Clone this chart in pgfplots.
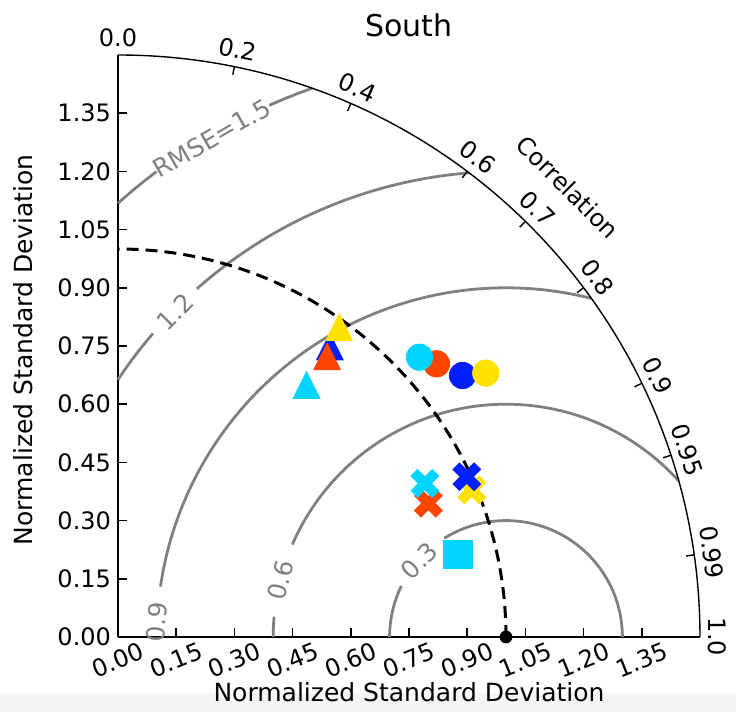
\documentclass[border=0pt]{standalone}
\usepackage{pgfplots}
\pgfplotsset{compat=1.18}
\usepackage{fontspec}
\setmainfont{DejaVu Sans}

\definecolor{mcyan}{RGB}{0,213,255}
\definecolor{mred}{RGB}{255,69,0}
\definecolor{mblue}{RGB}{0,30,255}
\definecolor{myellow}{RGB}{255,226,0}
\definecolor{rgray}{RGB}{128,128,128}

% matplotlib-like filled X and triangle markers
\pgfdeclareplotmark{Xfill}{%
  \pgftransformrotate{45}%
  \pgfpathmoveto{\pgfqpoint{0.33\pgfplotmarksize}{\pgfplotmarksize}}%
  \pgfpathlineto{\pgfqpoint{0.33\pgfplotmarksize}{0.33\pgfplotmarksize}}%
  \pgfpathlineto{\pgfqpoint{\pgfplotmarksize}{0.33\pgfplotmarksize}}%
  \pgfpathlineto{\pgfqpoint{\pgfplotmarksize}{-0.33\pgfplotmarksize}}%
  \pgfpathlineto{\pgfqpoint{0.33\pgfplotmarksize}{-0.33\pgfplotmarksize}}%
  \pgfpathlineto{\pgfqpoint{0.33\pgfplotmarksize}{-\pgfplotmarksize}}%
  \pgfpathlineto{\pgfqpoint{-0.33\pgfplotmarksize}{-\pgfplotmarksize}}%
  \pgfpathlineto{\pgfqpoint{-0.33\pgfplotmarksize}{-0.33\pgfplotmarksize}}%
  \pgfpathlineto{\pgfqpoint{-\pgfplotmarksize}{-0.33\pgfplotmarksize}}%
  \pgfpathlineto{\pgfqpoint{-\pgfplotmarksize}{0.33\pgfplotmarksize}}%
  \pgfpathlineto{\pgfqpoint{-0.33\pgfplotmarksize}{0.33\pgfplotmarksize}}%
  \pgfpathlineto{\pgfqpoint{-0.33\pgfplotmarksize}{\pgfplotmarksize}}%
  \pgfpathclose\pgfusepathqfill}
\pgfdeclareplotmark{mtri}{%
  \pgfpathmoveto{\pgfqpoint{0pt}{\pgfplotmarksize}}%
  \pgfpathlineto{\pgfqpoint{-\pgfplotmarksize}{-\pgfplotmarksize}}%
  \pgfpathlineto{\pgfqpoint{\pgfplotmarksize}{-\pgfplotmarksize}}%
  \pgfpathclose\pgfusepathqfill}

\newcommand{\tfont}{\fontsize{12}{14}\selectfont}
% RMSE contour piece: radius, start angle, end angle (centre at the reference point)
\newcommand{\rmsarc}[3]{%
  \draw[rgray, line width=1.4pt] (axis cs:{1+#1*cos(#2)},{#1*sin(#2)})
    arc[start angle=#2, end angle=#3, radius=#1*194pt];}

\begin{document}
\begin{tikzpicture}
\fill[black!4] (-59pt,-28pt) rectangle (309pt,-37.5pt);
\begin{axis}[
    at={(0,0)}, anchor=origin,
    scale only axis, width=291pt, height=291pt,
    xmin=0, xmax=1.5, ymin=0, ymax=1.5,
    axis x line=bottom, axis y line=left,
    axis line style={-, line width=0.8pt},
    tick align=inside, major tick length=4.5pt,
    tick style={black, line width=0.8pt},
    xtick={0,0.15,0.3,0.45,0.6,0.75,0.9,1.05,1.2,1.35},
    ytick={0,0.15,0.3,0.45,0.6,0.75,0.9,1.05,1.2,1.35},
    xticklabels={0.00,0.15,0.30,0.45,0.60,0.75,0.90,1.05,1.20,1.35},
    yticklabels={0.00,0.15,0.30,0.45,0.60,0.75,0.90,1.05,1.20,1.35},
    tick label style={font=\tfont},
    xticklabel style={rotate=22, anchor=center},
    xticklabel shift=11.5pt,
    xlabel={Normalized Standard Deviation},
    ylabel={Normalized Standard Deviation},
    every axis x label/.style={at={(axis cs:0.75,0)}, anchor=base, yshift=-32.5pt, font=\fontsize{12.5}{15}\selectfont},
    every axis y label/.style={at={(axis cs:0,0.74)}, anchor=base, rotate=90, yshift=42.5pt, font=\fontsize{12.5}{15}\selectfont},
    clip=false,
]
% circles
\addplot[only marks, mark=*, mark size=6.6pt, color=mred] coordinates {(0.821,0.704)};
\addplot[only marks, mark=*, mark size=6.6pt, color=mcyan] coordinates {(0.777,0.721)};
\addplot[only marks, mark=*, mark size=6.6pt, color=mblue] coordinates {(0.888,0.674)};
\addplot[only marks, mark=*, mark size=6.6pt, color=myellow] coordinates {(0.948,0.680)};
% triangles
\addplot[only marks, mark=mtri, mark size=7pt, color=mblue] coordinates {(0.546,0.749)};
\addplot[only marks, mark=mtri, mark size=7pt, color=mred] coordinates {(0.539,0.724)};
\addplot[only marks, mark=mtri, mark size=7pt, color=myellow] coordinates {(0.570,0.799)};
\addplot[only marks, mark=mtri, mark size=7pt, color=mcyan] coordinates {(0.486,0.650)};
% crosses
\addplot[only marks, mark=Xfill, mark size=7.7pt, color=mred] coordinates {(0.800,0.345)};
\addplot[only marks, mark=Xfill, mark size=7.7pt, color=mcyan] coordinates {(0.791,0.396)};
\addplot[only marks, mark=Xfill, mark size=7.7pt, color=myellow] coordinates {(0.912,0.379)};
\addplot[only marks, mark=Xfill, mark size=7.7pt, color=mblue] coordinates {(0.899,0.413)};
% square
\addplot[only marks, mark=square*, mark size=7.1pt, color=mcyan] coordinates {(0.876,0.213)};

% RMSE contours
\rmsarc{0.3}{0}{122}
\rmsarc{0.3}{154}{180}
\rmsarc{0.6}{42.1}{156.6}
\rmsarc{0.6}{175}{180}
\rmsarc{0.9}{75.85}{171.7}
\rmsarc{1.2}{94.54}{131.6}
\rmsarc{1.2}{139.3}{146.45}
\rmsarc{1.5}{109.47}{114}
\rmsarc{1.5}{126.9}{131.81}
\node[rgray, font=\fontsize{12.5}{15}\selectfont, rotate=45] at (axis cs:0.777,0.197) {0.3};
\node[rgray, font=\fontsize{12.5}{15}\selectfont, rotate=76] at (axis cs:0.420,0.147) {0.6};
\node[rgray, font=\fontsize{12.5}{15}\selectfont, rotate=87] at (axis cs:0.100,0.039) {0.9};
\node[rgray, font=\fontsize{12.5}{15}\selectfont, rotate=45] at (axis cs:0.147,0.838) {1.2};
\node[rgray, font=\fontsize{12.5}{15}\selectfont, rotate=30] at (axis cs:0.242,1.286) {RMSE=1.5};

% outer arc and correlation ticks
\draw[black, line width=0.7pt] (axis cs:1.5,0) arc[start angle=0, end angle=90, radius=291pt];
\pgfplotsinvokeforeach{0.2,0.4,0.6,0.7,0.8,0.9,0.95,0.99}{
  \draw[black, line width=0.7pt] (axis cs:{1.5*#1},{1.5*sqrt(1-#1*#1)}) -- (axis cs:{1.479*#1},{1.479*sqrt(1-#1*#1)});
}
\pgfplotsinvokeforeach{0.0,0.2,0.4,0.6,0.7,0.8,0.9,0.95,0.99,1.0}{
  \node[font=\tfont, rotate={acos(#1)-90}] at (axis cs:{1.545*#1},{1.545*sqrt(1-#1*#1)}) {#1};
}
\node[font=\tfont, rotate=-45] at (axis cs:{1.64*cos(45)},{1.64*sin(45)}) {Correlation};

% reference std circle and point
\draw[black, line width=1.5pt, dash pattern=on 6pt off 3.5pt] (axis cs:1,0) arc[start angle=0, end angle=90, radius=194pt];
\addplot[only marks, mark=*, mark size=3pt, color=black] coordinates {(1,0)};

\node[font=\fontsize{15}{18}\selectfont, anchor=base, yshift=9pt] at (axis cs:0.75,1.5) {South};
\end{axis}
\pgfresetboundingbox
\path (-59pt,-37.5pt) rectangle (309pt,318.5pt);
\end{tikzpicture}
\end{document}
